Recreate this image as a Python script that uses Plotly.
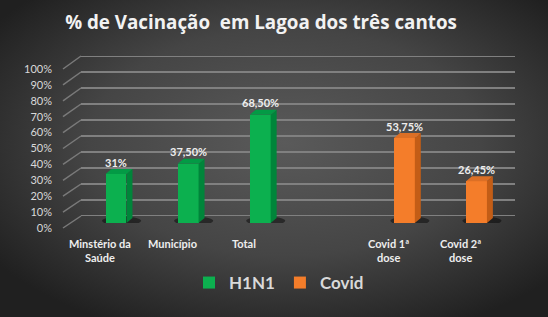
import base64
import plotly.graph_objects as go

# ---------------- data ----------------
categories = ["Minstério da<br>Saúde", "Município", "Total", "", "Covid 1ª<br>dose", "Covid 2ª<br>dose"]
h1n1_values = [0.31, 0.375, 0.685, None, None, None]
covid_values = [None, None, None, None, 0.5375, 0.2645]
value_labels = ["31%", "37,50%", "68,50%", "", "53,75%", "26,45%"]
series_names = ["H1N1", "Covid"]
y_ticks = [0, 0.1, 0.2, 0.3, 0.4, 0.5, 0.6, 0.7, 0.8, 0.9, 1.0]
title_text = "% de Vacinação  em Lagoa dos três cantos"

# ---------------- styles ----------------
W, H = 548, 317
FONT = "Lato"
green = dict(front="#0cb04f", side="#00853a", top="#039a45")
orange = dict(front="#f47d2a", side="#c35d16", top="#dc6f25")
BAR_W = 0.29
DX, DY = 0.083, 0.032  # depth of 3D bars in data units


def px_x(p):
    return p / W


def px_y(p):
    return 1 - p / H


# background gradient
svg = f'''<svg xmlns="http://www.w3.org/2000/svg" width="{W}" height="{H}">
<defs><radialGradient id="g" cx="52%" cy="45%" r="65%">
<stop offset="0" stop-color="#5a5a5a"/><stop offset="0.55" stop-color="#454545"/>
<stop offset="1" stop-color="#202020"/></radialGradient></defs>
<rect width="{W}" height="{H}" fill="url(#g)"/></svg>'''
bg_src = "data:image/svg+xml;base64," + base64.b64encode(svg.encode()).decode()

fig = go.Figure()

xs = list(range(len(categories)))


def add_series(vals, name, col):
    px = [x for x, v in zip(xs, vals) if v is not None]
    pv = [v for v in vals if v is not None]
    fig.add_trace(go.Bar(x=px, y=pv, width=BAR_W, name=f"<b>{name}</b>",
                         marker=dict(color=col["front"], line=dict(width=0)),
                         hoverinfo="skip"))
    for x, v in zip(px, pv):
        xl, xr = x - BAR_W / 2, x + BAR_W / 2
        fig.add_trace(go.Scatter(x=[xr, xr + DX, xr + DX, xr, xr], y=[0, DY, v + DY, v, 0],
                                 fill="toself", fillcolor=col["side"], mode="lines",
                                 line=dict(width=0, color=col["side"]), showlegend=False,
                                 hoverinfo="skip"))
        fig.add_trace(go.Scatter(x=[xl, xl + DX, xr + DX, xr, xl], y=[v, v + DY, v + DY, v, v],
                                 fill="toself", fillcolor=col["top"], mode="lines",
                                 line=dict(width=0, color=col["top"]), showlegend=False,
                                 hoverinfo="skip"))
        fig.add_shape(type="circle", xref="x", yref="y", layer="below",
                      x0=xl - 0.05, x1=xr + DX + 0.12, y0=-0.015, y1=DY + 0.01,
                      fillcolor="rgba(0,0,0,0.45)", line=dict(width=0))


add_series(h1n1_values, series_names[0], green)
add_series(covid_values, series_names[1], orange)

# helper traces so that the back-wall and front-scale axes are drawn
fig.add_trace(go.Scatter(x=[0], y=[0], xaxis="x2", yaxis="y2", mode="markers",
                         marker=dict(opacity=0), showlegend=False, hoverinfo="skip"))
fig.add_trace(go.Scatter(x=[0], y=[0], xaxis="x2", yaxis="y3", mode="markers",
                         marker=dict(opacity=0), showlegend=False, hoverinfo="skip"))

# geometry (pixels)
bar_y0, bar_y1 = 223, 65
back_x0, back_x1 = 81, 515
back_y0, back_y1 = 216, 56
front_x = 63
front_y0, front_y1 = 228, 69

# back-wall gridlines + side-wall diagonals
for t in y_ticks:
    fig.add_shape(type="line", xref="paper", yref="y2", layer="below",
                  x0=px_x(back_x0), x1=px_x(back_x1), y0=t, y1=t,
                  line=dict(color="#808080", width=2))
    fy = front_y0 - t * (front_y0 - front_y1)
    by = back_y0 - t * (back_y0 - back_y1)
    fig.add_shape(type="line", xref="paper", yref="paper", layer="below",
                  x0=px_x(front_x), y0=px_y(fy), x1=px_x(back_x0), y1=px_y(by),
                  line=dict(color="#7a7a7a", width=1.5))

# value labels
for x, lab, a, b in zip(xs, value_labels, h1n1_values, covid_values):
    v = a if a is not None else b
    if v is None:
        continue
    fig.add_annotation(x=x, y=v, xref="x", yref="y", text=f"<b>{lab}</b>", showarrow=False,
                       yshift=12, font=dict(family=FONT, size=11, color="#eeeeee"))

# category labels
for x, c in zip(xs, categories):
    if not c:
        continue
    fig.add_annotation(x=x, y=px_y(235), xref="x", yref="paper", text=f"<b>{c}</b>",
                       showarrow=False, xshift=-16, yanchor="top",
                       font=dict(family=FONT, size=11, color="#eeeeee"))

fig.update_layout(
    width=W, height=H,
    margin=dict(l=0, r=0, t=0, b=0, autoexpand=False),
    paper_bgcolor="#333333", plot_bgcolor="rgba(0,0,0,0)",
    images=[dict(source=bg_src, xref="paper", yref="paper", x=0, y=1, sizex=1, sizey=1,
                 sizing="stretch", layer="below", xanchor="left", yanchor="top")],
    title=dict(text=f"<b>{title_text}</b>", x=261 / W, xanchor="center", y=px_y(22), yanchor="middle",
               font=dict(family="Open Sans", size=18.8, color="#f2f2f2")),
    bargap=0,
    xaxis=dict(domain=[px_x(80), px_x(512.5)], range=[-0.5, 5.5], visible=False, fixedrange=True),
    yaxis=dict(domain=[px_y(bar_y0), px_y(bar_y1)], range=[0, 1], visible=False, fixedrange=True),
    xaxis2=dict(domain=[px_x(back_x0), px_x(back_x1)], range=[0, 1], anchor="y2", visible=False),
    yaxis2=dict(domain=[px_y(back_y0), px_y(back_y1)], range=[0, 1], anchor="x2", visible=False),
    yaxis3=dict(domain=[px_y(front_y0), px_y(front_y1)], range=[0, 1], anchor="free",
                position=px_x(front_x - 11), side="left",
                tickvals=y_ticks, tickformat=".0%", showgrid=False, zeroline=False,
                showline=False, ticks="", tickfont=dict(family=FONT, size=11, color="#d9d9d9")),
    legend=dict(orientation="h", x=0.5 + 5 / W, xanchor="center", y=px_y(283), yanchor="middle",
                font=dict(family=FONT, size=17, color="#d9d9d9"), bgcolor="rgba(0,0,0,0)",
                itemwidth=30),
    showlegend=True,
)

fig.write_html("out.html")
